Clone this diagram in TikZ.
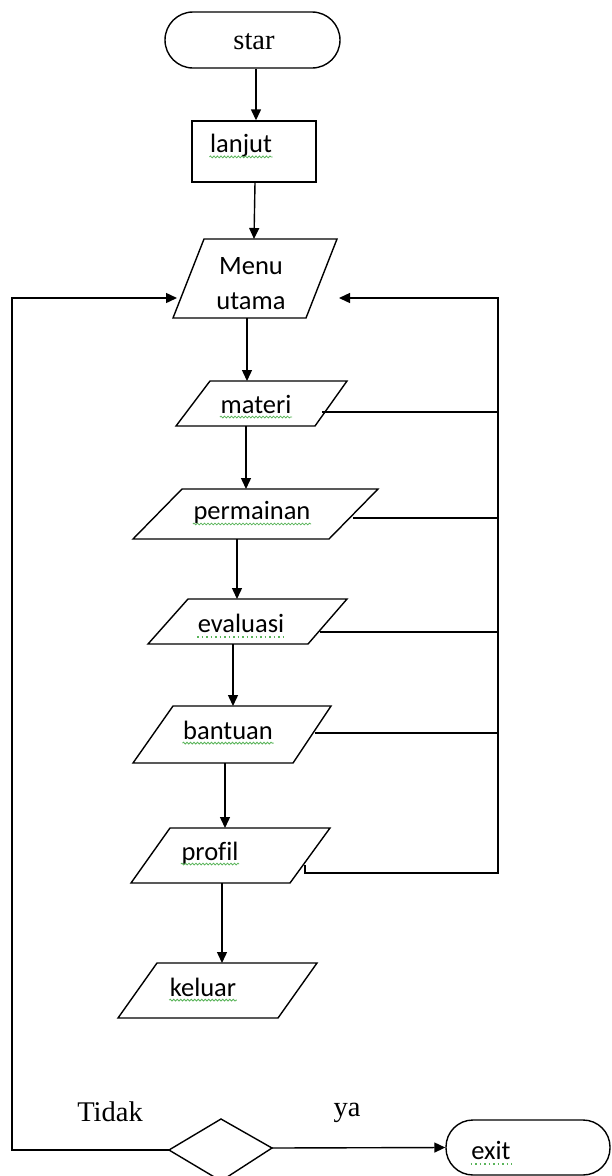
\documentclass[tikz,border=0pt]{standalone}
\usepackage{fontspec}
\setmainfont{Liberation Serif}
\newfontfamily\calfont[Ligatures=NoCommon]{Carlito}
\usetikzlibrary{arrows.meta,decorations.pathmorphing}
\definecolor{spell}{RGB}{90,180,90}
\begin{document}
\begin{tikzpicture}[x=1pt,y=-1pt,line width=1.4pt,
  arr/.style={-{Triangle[length=11pt,width=10pt]}},
  sans/.style={font=\calfont\fontsize{26.5}{35}\selectfont,inner sep=0pt},
  serif/.style={font=\fontsize{28.5}{32}\selectfont,inner sep=0pt},
  wavy/.style={spell,line width=0.8pt,decorate,decoration={snake,amplitude=0.9pt,segment length=3.5pt}},
  dots/.style={spell,line width=1.3pt,dash pattern=on 1.5pt off 3pt}]
\useasboundingbox (0,0) rectangle (611,1176);

% start / lanjut
\node[draw,rounded corners=28pt,minimum width=175pt,minimum height=56pt,inner sep=0pt] (star) at (252.5,40) {};
\node[serif] (startxt) at (254,42) {star};
\node[draw,minimum width=124pt,minimum height=61pt,inner sep=0pt] (lanjut) at (254,151.5) {};
\node[sans] (lanjuttxt) at (241,146) {lanjut};

% Menu utama
\draw (204,239) -- (337,239) -- (306,318) -- (173,318) -- cycle;
\node[sans,align=center] (menu) at (251,284) {Menu\\utama};
\coordinate (menuN) at (254,239);
\coordinate (menuS) at (247,318);
\coordinate (menuW) at (177,298);
\coordinate (menuE) at (339,298);

% materi
\draw (210,381) -- (347,381) -- (315,426) -- (176,426) -- cycle;
\node[sans] (materi) at (256,404) {materi};
\coordinate (materiN) at (247,381);
\coordinate (materiS) at (246,426);
\coordinate (materiE) at (322,412);

% permainan
\draw (182,489) -- (378,489) -- (329,539) -- (133,539) -- cycle;
\node[sans] (permainan) at (252,513) {permainan};
\coordinate (permainanN) at (246,489);
\coordinate (permainanS) at (237,539);
\coordinate (permainanE) at (353,518);

% evaluasi
\draw (188,599) -- (347,599) -- (308,644) -- (148,644) -- cycle;
\node[sans] (evaluasi) at (241,623) {evaluasi};
\coordinate (evaluasiN) at (237,599);
\coordinate (evaluasiS) at (233,644);
\coordinate (evaluasiE) at (320,632);

% bantuan
\draw (173,706) -- (331,706) -- (293,763) -- (133,763) -- cycle;
\node[sans] (bantuan) at (228,730) {bantuan};
\coordinate (bantuanN) at (233,706);
\coordinate (bantuanS) at (225,763);
\coordinate (bantuanE) at (315,733);

% profil
\draw (170,828) -- (330,828) -- (290,883) -- (131,883) -- cycle;
\node[sans] (profil) at (210,853) {profil};
\coordinate (profilN) at (225,828);
\coordinate (profilS) at (222,883);
\coordinate (profilE) at (305,865);

% keluar
\draw (157,963) -- (317,963) -- (278,1018) -- (118,1018) -- cycle;
\node[sans] (keluar) at (203,987) {keluar};
\coordinate (keluarN) at (222,963);

% decision
\draw (169,1150) -- (221,1119) -- (272,1148) -- (221,1181) -- cycle;
\coordinate (decW) at (169,1150);
\coordinate (decE) at (272,1148);
\node[serif] (tidak) at (110,1112) {Tidak};
\node[serif] (ya) at (347,1113) {ya};

% exit
\node[draw,rounded corners=27pt,minimum width=164pt,minimum height=55pt,inner sep=0pt] (exit) at (528,1147.5) {};
\node[sans] (exittxt) at (491,1150) {exit};

% bus coordinates
\coordinate (rTop) at (498,298);
\coordinate (rBot) at (498,873);
\coordinate (lTop) at (12,298);
\coordinate (lBot) at (12,1150);

% spell-check underlines
\foreach \w in {lanjuttxt,materi,permainan,bantuan,profil,keluar}{
  \draw[wavy] ([yshift=-4pt]\w.base west) -- ([yshift=-4pt]\w.base east);
}
\foreach \w in {evaluasi,exittxt}{
  \draw[dots] ([yshift=-5pt]\w.base west) -- ([yshift=-5pt]\w.base east);
}

% main flow
\draw[arr] ([xshift=3.5pt]star.south) -- ([xshift=2pt]lanjut.north);
\draw[arr] ([xshift=1pt]lanjut.south) -- (menuN);
\draw[arr] (menuS) -- (materiN);
\draw[arr] (materiS) -- (permainanN);
\draw[arr] (permainanS) -- (evaluasiN);
\draw[arr] (evaluasiS) -- (bantuanN);
\draw[arr] (bantuanS) -- (profilN);
\draw[arr] (profilS) -- (keluarN);

% return bus on the right
\draw (materiE) -- (materiE -| rTop);
\draw (permainanE) -- (permainanE -| rTop);
\draw (evaluasiE) -- (evaluasiE -| rTop);
\draw (bantuanE) -- (bantuanE -| rTop);
\draw[arr] (profilE) |- (rBot) -- (rTop) -- (menuE);

% loop back on the left
\draw[arr] (decW) -- (lBot) -- (lTop) -- (menuW);

% to exit
\draw[arr] (decE) -- (exit.west);
\end{tikzpicture}
\end{document}
